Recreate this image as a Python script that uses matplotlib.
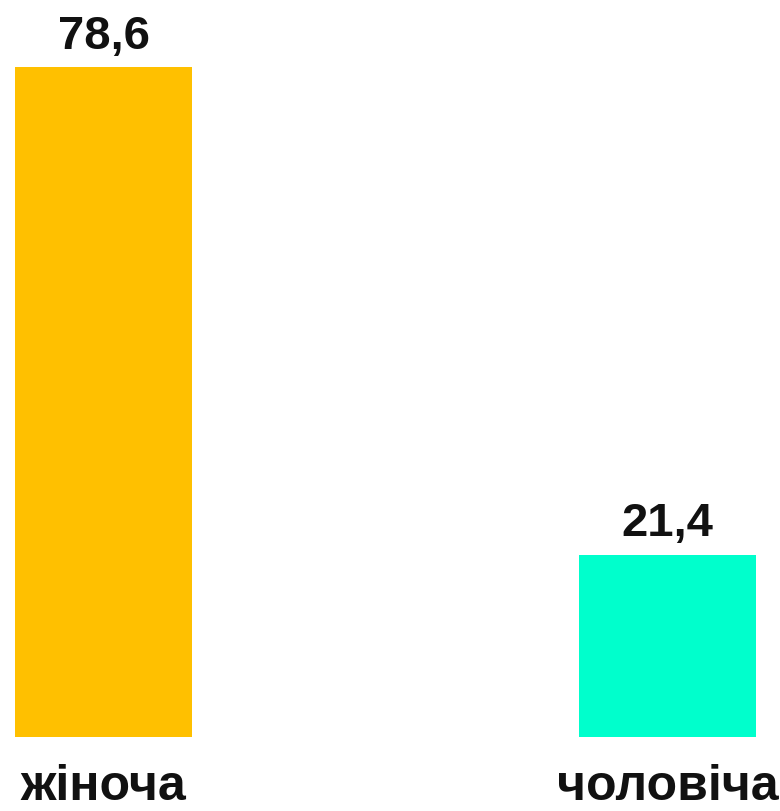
import matplotlib
matplotlib.use("Agg")
import matplotlib.pyplot as plt

categories = ["жіноча", "чоловіча"]
values = [78.6, 21.4]
value_labels = ["78,6", "21,4"]
colors = ["#FFC000", "#00FFCC"]

plt.rcParams['font.family'] = ['Liberation Sans', 'DejaVu Sans']

fig = plt.figure(figsize=(7.8, 8.12), dpi=100)
ax = fig.add_axes([0, 74/812, 1, 670/812])
x = list(range(len(categories)))
ax.bar(x, values, width=177/564, color=colors)
ax.set_xlim(-103.5/564, (780-103.5)/564)
ax.set_ylim(0, 78.6)
for xi, v, lab in zip(x, values, value_labels):
    ax.annotate(lab, (xi, v), xytext=(0, 14), textcoords="offset points",
                ha="center", va="baseline", fontsize=34, fontweight="bold", color="#111111")
for xi, cat in zip(x, categories):
    ax.annotate(cat, (xi, 0), xytext=(0, -45), textcoords="offset points",
                ha="center", va="baseline", fontsize=36, fontweight="bold", color="#111111")
ax.axis("off")
fig.savefig("out.png", dpi=100)
